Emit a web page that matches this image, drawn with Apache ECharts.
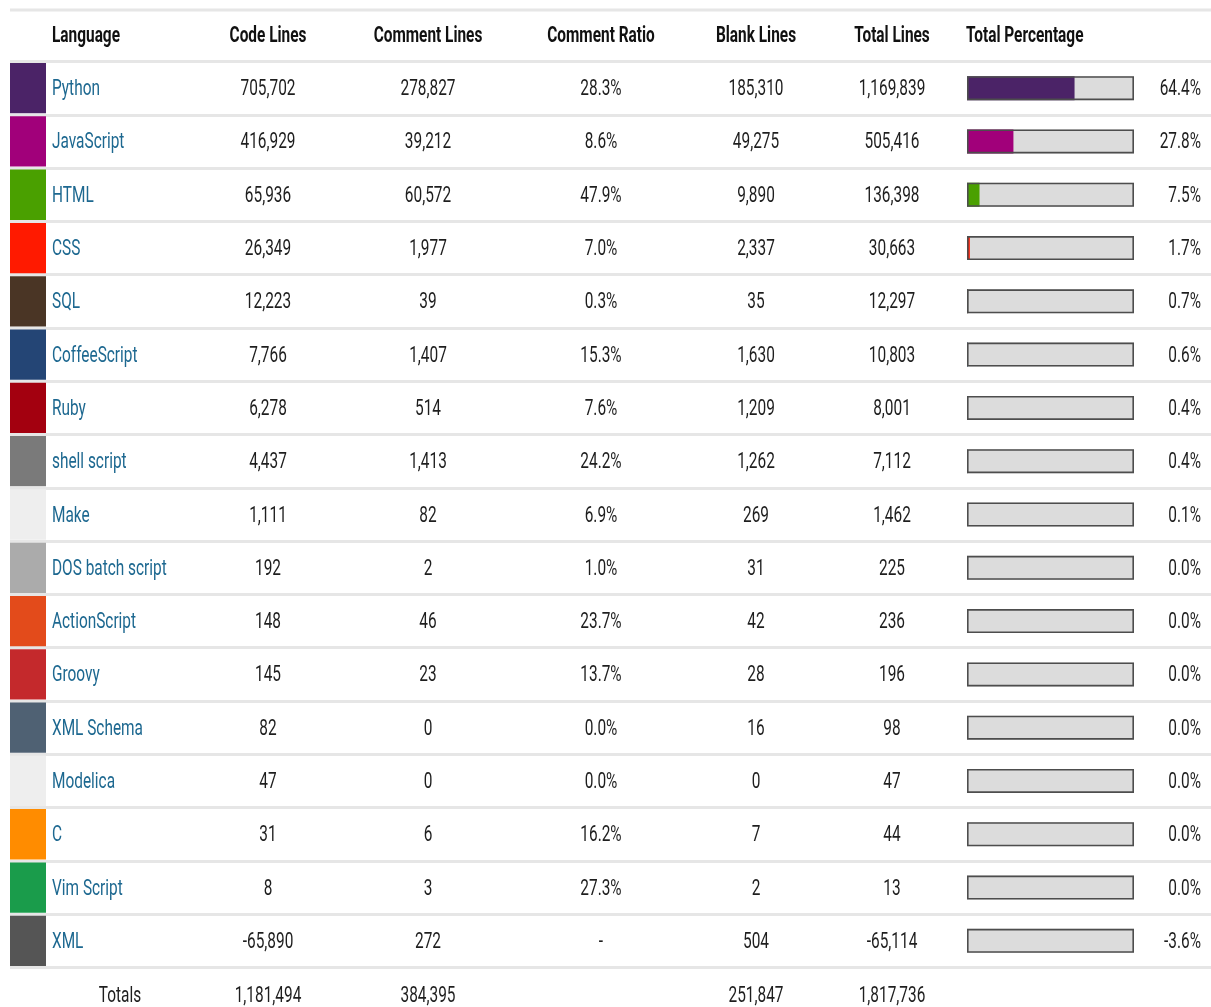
<!DOCTYPE html>
<html>
<head>
<meta charset="utf-8">
<script src="https://cdn.jsdelivr.net/npm/echarts@6/dist/echarts.min.js"></script>
<style>html,body{margin:0;padding:0;background:#fff;}#c{width:1211px;height:1007px;}</style>
</head>
<body>
<div id="c"></div>
<script>
const languages = ['Python','JavaScript','HTML','CSS','SQL','CoffeeScript','Ruby','shell script','Make','DOS batch script','ActionScript','Groovy','XML Schema','Modelica','C','Vim Script','XML'];
const swatchColors = ['#4b2367','#a1007a','#4aa000','#ff1a00','#4a3525','#244575','#a3000f','#7a7a7a','#eeeeee','#ababab','#e34b1b','#c4292c','#4f6173','#eeeeee','#ff8c00','#1a9c4b','#555555'];
const codeLines = [705702,416929,65936,26349,12223,7766,6278,4437,1111,192,148,145,82,47,31,8,-65890];
const commentLines = [278827,39212,60572,1977,39,1407,514,1413,82,2,46,23,0,0,6,3,272];
const commentRatio = ['28.3%','8.6%','47.9%','7.0%','0.3%','15.3%','7.6%','24.2%','6.9%','1.0%','23.7%','13.7%','0.0%','0.0%','16.2%','27.3%','-'];
const blankLines = [185310,49275,9890,2337,35,1630,1209,1262,269,31,42,28,16,0,7,2,504];
const totalLines = [1169839,505416,136398,30663,12297,10803,8001,7112,1462,225,236,196,98,47,44,13,-65114];
const totalPct = [64.4,27.8,7.5,1.7,0.7,0.6,0.4,0.4,0.1,0.0,0.0,0.0,0.0,0.0,0.0,0.0,-3.6];
const headers = ['Language','Code Lines','Comment Lines','Comment Ratio','Blank Lines','Total Lines','Total Percentage'];
const totalsRow = ['Totals','1,181,494','384,395','','251,847','1,817,736'];

const FONT = 'Roboto';
const FS = 22;
const SX = 0.70;
const DY = 1.5;
const NUM_COLOR = '#1e1e1e';
const LANG_COLOR = '#1d6890';
const COL = {lang:52, code:268, comment:428, ratio:601, blank:756, total:892, pct:1201, totalsLabel:120};

const fmt = v => v.toLocaleString('en-US');

function txt(text, x, y, align, color, weight) {
  return {
    type: 'text', x: x, y: y + DY, scaleX: SX,
    style: {text: text, fill: color, fontFamily: FONT, fontSize: FS, fontWeight: weight || 'normal', align: align, verticalAlign: 'middle'}
  };
}

const chart = echarts.init(document.getElementById('c'), null, {renderer: 'canvas'});

const headerY = 35;
const totalsY = 995;
const graphics = [
  {type:'rect', shape:{x:10, y:8.5, width:1201, height:3}, style:{fill:'#e6e6e6'}, silent:true},
  txt(headers[0], COL.lang, headerY, 'left', '#111', 'bold'),
  txt(headers[1], COL.code, headerY, 'center', '#111', 'bold'),
  txt(headers[2], COL.comment, headerY, 'center', '#111', 'bold'),
  txt(headers[3], COL.ratio, headerY, 'center', '#111', 'bold'),
  txt(headers[4], COL.blank, headerY, 'center', '#111', 'bold'),
  txt(headers[5], COL.total, headerY, 'center', '#111', 'bold'),
  txt(headers[6], 966, headerY, 'left', '#111', 'bold'),
  txt(totalsRow[0], COL.totalsLabel, totalsY, 'center', NUM_COLOR),
  txt(totalsRow[1], COL.code, totalsY, 'center', NUM_COLOR),
  txt(totalsRow[2], COL.comment, totalsY, 'center', NUM_COLOR),
  txt(totalsRow[4], COL.blank, totalsY, 'center', NUM_COLOR),
  txt(totalsRow[5], COL.total, totalsY, 'center', NUM_COLOR)
];

const gridTop = 61.5, gridBottom = 39.5;

chart.setOption({
  animation: false,
  backgroundColor: '#fff',
  grid: [
    {left: 10, right: 0, top: gridTop, bottom: gridBottom},
    {left: 967, width: 167, top: gridTop, bottom: gridBottom}
  ],
  xAxis: [
    {gridIndex: 0, type: 'value', min: 0, max: 1, show: false},
    {gridIndex: 1, type: 'value', min: 0, max: 100, show: false}
  ],
  yAxis: [
    {gridIndex: 0, type: 'category', data: languages, inverse: true,
      axisLine: {show: false}, axisTick: {show: false}, axisLabel: {show: false},
      splitLine: {show: true, lineStyle: {color: '#e6e6e6', width: 3}}},
    {gridIndex: 1, type: 'category', data: languages, inverse: true, show: false}
  ],
  graphic: graphics,
  series: [
    {
      type: 'custom', xAxisIndex: 0, yAxisIndex: 0,
      data: languages.map((l, i) => [0, i]),
      encode: {x: 0, y: 1},
      renderItem: function (params, api) {
        const i = api.value(1);
        const c = api.coord([0, i]);
        const bh = api.size([0, 1])[1];
        const y = c[1];
        return {
          type: 'group',
          children: [
            {type: 'rect', shape: {x: 10, y: y - bh / 2 + 1.5, width: 36, height: bh - 3}, style: {fill: swatchColors[i]}},
            txt(languages[i], COL.lang, y, 'left', LANG_COLOR),
            txt(fmt(codeLines[i]), COL.code, y, 'center', NUM_COLOR),
            txt(fmt(commentLines[i]), COL.comment, y, 'center', NUM_COLOR),
            txt(commentRatio[i], COL.ratio, y, 'center', NUM_COLOR),
            txt(fmt(blankLines[i]), COL.blank, y, 'center', NUM_COLOR),
            txt(fmt(totalLines[i]), COL.total, y, 'center', NUM_COLOR),
            txt(totalPct[i].toFixed(1) + '%', COL.pct, y, 'right', NUM_COLOR)
          ]
        };
      }
    },
    {
      type: 'bar', xAxisIndex: 1, yAxisIndex: 1, barWidth: 24, barGap: '-100%', silent: true,
      data: languages.map(() => 100),
      itemStyle: {color: '#dcdcdc'}, z: 1
    },
    {
      type: 'bar', xAxisIndex: 1, yAxisIndex: 1, barWidth: 24, barGap: '-100%', silent: true, clip: true,
      data: totalPct.map((v, i) => ({value: v, itemStyle: {color: swatchColors[i]}})), z: 2
    },
    {
      type: 'bar', xAxisIndex: 1, yAxisIndex: 1, barWidth: 24, barGap: '-100%', silent: true,
      data: languages.map(() => 100),
      itemStyle: {color: 'rgba(0,0,0,0)', borderColor: '#4d4d4d', borderWidth: 1.6}, z: 3
    }
  ]
});
</script>
</body>
</html>
